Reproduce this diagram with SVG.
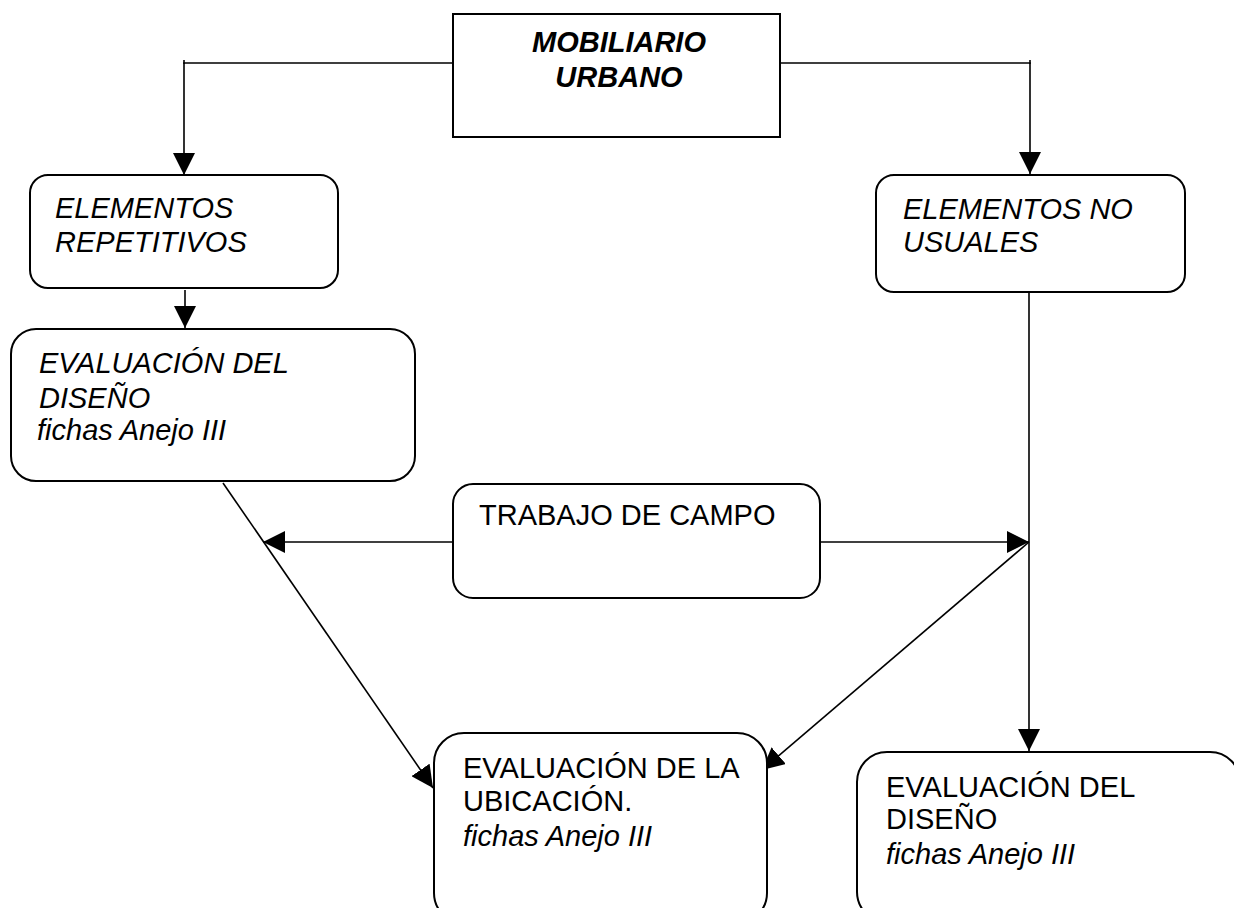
<svg xmlns="http://www.w3.org/2000/svg" width="1234" height="908" viewBox="0 0 1234 908">
<defs>
<marker id="ah" markerUnits="userSpaceOnUse" markerWidth="22" markerHeight="22" viewBox="0 0 20 20" refX="20" refY="10" orient="auto">
<path d="M0,0 L20,10 L0,20 Z" fill="#000"/>
</marker>
</defs>
<style>
.box{fill:#fff;stroke:#000;stroke-width:2}
.ln{fill:none;stroke:#000;stroke-width:1.6}
.t{font-family:"Liberation Sans",Arial,sans-serif;font-size:29px;fill:#000}
.i{font-style:italic}
.b{font-weight:bold}
</style>
<rect width="1234" height="908" fill="#fff"/>
<g id="connectors">
<polyline class="ln" points="453,63 184,63 184,175" marker-end="url(#ah)"/>
<line class="ln" x1="184" y1="60" x2="184" y2="64"/>
<polyline class="ln" points="780,63 1030,63 1030,174" marker-end="url(#ah)"/>
<line class="ln" x1="1030" y1="60" x2="1030" y2="64"/>
<line class="ln" x1="185" y1="290" x2="185" y2="328" marker-end="url(#ah)"/>
<line class="ln" x1="1029" y1="292" x2="1029" y2="751" marker-end="url(#ah)"/>
<line class="ln" x1="453" y1="542" x2="263" y2="542" marker-end="url(#ah)"/>
<line class="ln" x1="820" y1="542" x2="1029" y2="542" marker-end="url(#ah)"/>
<line class="ln" x1="223" y1="483" x2="433" y2="788" marker-end="url(#ah)"/>
<line class="ln" x1="1029" y1="542" x2="762" y2="770" marker-end="url(#ah)"/>
</g>
<g id="mobiliario">
<rect class="box" x="453" y="14" width="327" height="123"/>
<text class="t i b" x="619" y="52" text-anchor="middle">MOBILIARIO</text>
<text class="t i b" x="619" y="87" text-anchor="middle">URBANO</text>
</g>
<g id="repetitivos">
<rect class="box" x="30" y="175" width="308" height="113" rx="18"/>
<text class="t i" x="55" y="218">ELEMENTOS</text>
<text class="t i" x="55" y="252">REPETITIVOS</text>
</g>
<g id="no-usuales">
<rect class="box" x="876" y="175" width="309" height="117" rx="18"/>
<text class="t i" x="903" y="219">ELEMENTOS NO</text>
<text class="t i" x="903" y="252">USUALES</text>
</g>
<g id="eval-diseno-1">
<rect class="box" x="11" y="329" width="404" height="152" rx="25"/>
<text class="t i" x="39" y="373">EVALUACIÓN DEL</text>
<text class="t i" x="39" y="408">DISEÑO</text>
<text class="t i" x="37" y="440">fichas Anejo III</text>
</g>
<g id="trabajo">
<rect class="box" x="453" y="484" width="367" height="114" rx="20"/>
<text class="t" x="479" y="525">TRABAJO DE CAMPO</text>
</g>
<g id="eval-ubicacion">
<rect class="box" x="434" y="733" width="333" height="190" rx="30"/>
<text class="t" x="463" y="778">EVALUACIÓN DE LA</text>
<text class="t" x="463" y="811">UBICACIÓN.</text>
<text class="t i" x="463" y="846">fichas Anejo III</text>
</g>
<g id="eval-diseno-2">
<rect class="box" x="857" y="752" width="383" height="170" rx="30"/>
<text class="t" x="886" y="797">EVALUACIÓN DEL</text>
<text class="t" x="886" y="829">DISEÑO</text>
<text class="t i" x="886" y="864">fichas Anejo III</text>
</g>
</svg>
